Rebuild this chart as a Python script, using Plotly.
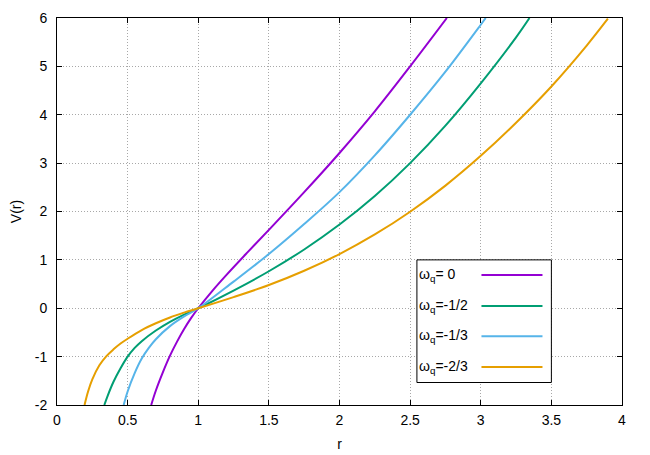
import plotly.graph_objects as go

# values
r_w0 = [0.667, 0.7, 0.75, 0.8, 0.85, 0.9, 0.95, 1.0, 1.1, 1.2, 1.35, 1.5, 1.75, 2.0, 2.25, 2.5, 2.76]
v_w0 = [-2.0, -1.7, -1.32, -0.98, -0.69, -0.43, -0.2, 0.0, 0.36, 0.69, 1.16, 1.62, 2.4, 3.21, 4.07, 5.0, 6.0]

r_w12 = [0.335, 0.36, 0.4, 0.45, 0.5, 0.55, 0.6, 0.7, 0.8, 0.9, 1.0, 1.25, 1.5, 1.75, 2.0, 2.25, 2.5, 2.75, 3.0, 3.25, 3.345]
v_w12 = [-2.0, -1.8, -1.52, -1.24, -1.0, -0.82, -0.68, -0.46, -0.28, -0.13, 0.0, 0.365, 0.765, 1.215, 1.73, 2.32, 3.0, 3.775, 4.65, 5.6, 6.0]

r_w13 = [0.472, 0.5, 0.55, 0.6, 0.65, 0.7, 0.8, 0.9, 1.0, 1.25, 1.5, 1.75, 2.0, 2.25, 2.5, 2.75, 3.0, 3.035]
v_w13 = [-2.0, -1.72, -1.34, -1.04, -0.82, -0.64, -0.37, -0.17, 0.0, 0.55, 1.12, 1.74, 2.4, 3.16, 4.0, 4.89, 5.86, 6.0]

r_w23 = [0.195, 0.22, 0.25, 0.3, 0.35, 0.4, 0.45, 0.5, 0.6, 0.7, 0.8, 0.9, 1.0, 1.25, 1.5, 1.75, 2.0, 2.25, 2.5, 2.75, 3.0, 3.25, 3.5, 3.75, 3.9]
v_w23 = [-2.0, -1.72, -1.47, -1.18, -0.99, -0.85, -0.73, -0.63, -0.45, -0.31, -0.19, -0.09, 0.0, 0.23, 0.48, 0.775, 1.12, 1.525, 1.995, 2.535, 3.15, 3.835, 4.585, 5.43, 5.985]

labels = ["ω<sub>q</sub>= 0", "ω<sub>q</sub>=-1/2", "ω<sub>q</sub>=-1/3", "ω<sub>q</sub>=-2/3"]
colors = ["#9400d3", "#009e73", "#56b4e9", "#e69f00"]
x_tickvals = [0, 0.5, 1, 1.5, 2, 2.5, 3, 3.5, 4]
x_ticks = ["0", "0.5", "1", "1.5", "2", "2.5", "3", "3.5", "4"]
y_tickvals = [-2, -1, 0, 1, 2, 3, 4, 5, 6]
y_ticks = ["-2", "-1", "0", "1", "2", "3", "4", "5", "6"]

series = [(r_w0, v_w0), (r_w12, v_w12), (r_w13, v_w13), (r_w23, v_w23)]

fig = go.Figure()
for (rr, vv), lab, col in zip(series, labels, colors):
    fig.add_trace(go.Scatter(x=rr, y=vv, mode="lines", name=lab,
                             line=dict(color=col, width=2, shape="spline", smoothing=1.0),
                             showlegend=False))

# gnuplot style key box (text left, sample line right)
fig.add_shape(type="rect", xref="x", yref="y", x0=2.548, x1=3.5, y0=-1.535, y1=1.0,
              line=dict(color="black", width=1), fillcolor="white", layer="above")
row_y = [0.688, 0.048, -0.579, -1.213]
for lab, col, yy in zip(labels, colors, row_y):
    fig.add_shape(type="line", xref="x", yref="y", x0=3.005, x1=3.437, y0=yy, y1=yy,
                  line=dict(color=col, width=2), layer="above")
    fig.add_annotation(x=2.552, y=yy, xref="x", yref="y", text=lab, showarrow=False,
                       xanchor="left", yanchor="middle", font=dict(size=14, color="black"))

axis_style = dict(showline=True, linecolor="black", linewidth=1, mirror="allticks",
                  ticks="inside", ticklen=5, tickcolor="black", automargin=False,
                  showgrid=True, gridcolor="#a8a8a8", griddash="1px,2px", gridwidth=1,
                  zeroline=False, tickfont=dict(size=14, color="black"))

fig.update_xaxes(range=[0, 4], tickvals=x_tickvals, ticktext=x_ticks, ticklabelstandoff=2,
                 title=dict(text="r", font=dict(size=14), standoff=12), **axis_style)
fig.update_yaxes(range=[-2, 6], tickvals=y_tickvals, ticktext=y_ticks, ticklabelstandoff=6,
                 title=dict(text="V(r)", font=dict(size=14), standoff=12), **axis_style)

# the page body has an 8px margin, so the margins are shifted to compensate
fig.update_layout(width=650, height=455, plot_bgcolor="white", paper_bgcolor="white",
                  font=dict(family="Liberation Sans, Arial, sans-serif", size=14, color="black"),
                  margin=dict(l=49, r=36, t=10, b=58))

fig.write_html("out.html")
